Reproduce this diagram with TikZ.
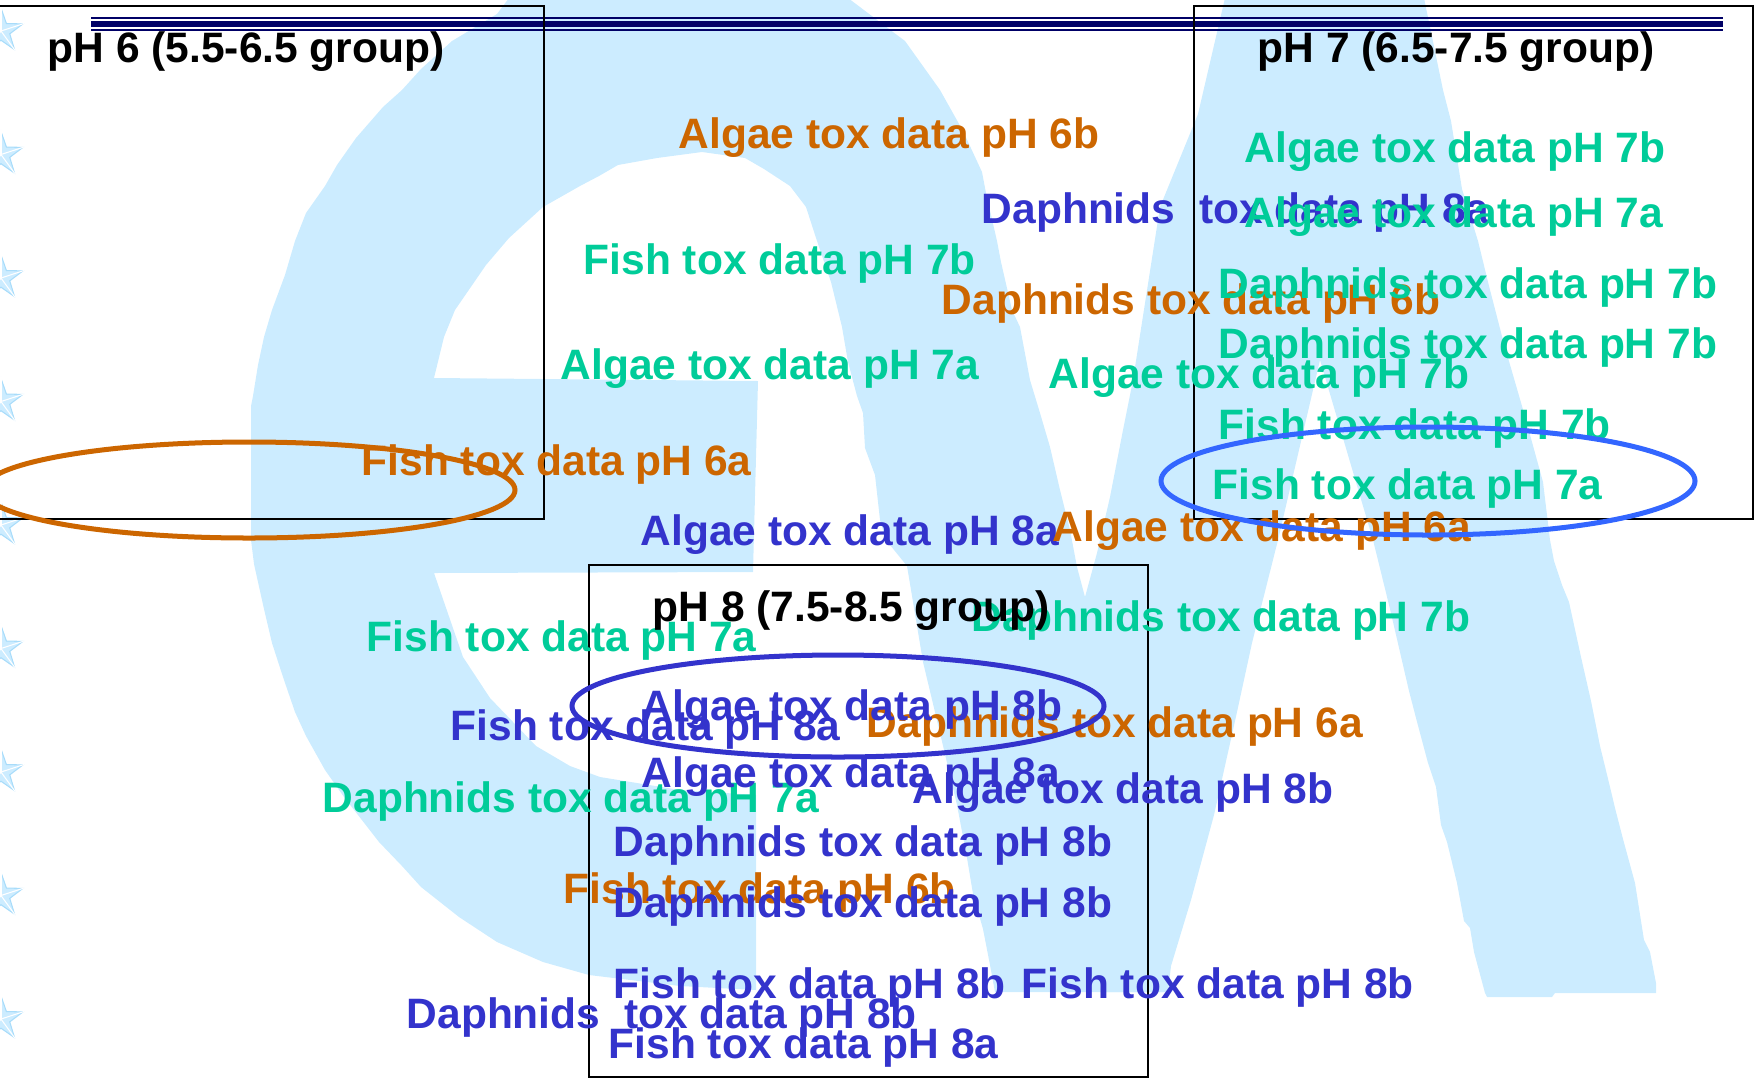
\documentclass[tikz, border = 0pt]{standalone}
\usepackage{fontspec}
\setmainfont{Liberation Sans}
\usetikzlibrary{shapes.geometric}

\definecolor{phsix}{HTML}{CC6600}
\definecolor{phseven}{HTML}{00CC99}
\definecolor{pheight}{HTML}{3333CC}
\definecolor{ringblue}{HTML}{3366FF}
\definecolor{logoblue}{HTML}{CCECFF}
\definecolor{starblue}{HTML}{A8DCFA}
\definecolor{rule}{HTML}{000066}

\newcommand{\toxfont}{\bfseries\fontsize{12.09}{14}\selectfont}

\tikzset{
	tox/.style = {anchor = base west, inner sep = 0, font = \toxfont},
	six/.style = {tox, text = phsix},
	seven/.style = {tox, text = phseven},
	eight/.style = {tox, text = pheight},
	head/.style = {tox, text = black},
	group/.style = {draw = black, line width = 0.017cm},
	ring/.style = {line width = 0.05cm},
	logostar/.style = {star, star points = 5, star point ratio = 2.5, minimum size = 0.46cm, inner sep = 0, fill = logoblue, draw = starblue, line width = 0.3pt}
}

\begin{document}
\begin{tikzpicture}[x = 0.01cm, y = -0.01cm]

\useasboundingbox (0, 0) rectangle (1760, 1078);
\clip (0, 0) rectangle (1760, 1078);

% big pale letters behind everything
\fill [logoblue] (509, -2) -- (497, 14) -- (452, 41) -- (421, 69) -- (402, 90) -- (383, 107) -- (356, 138) -- (337, 165) -- (325, 186) -- (306, 213) -- (295, 241) -- (285, 275) -- (272, 310) -- (264, 337) -- (258, 365) -- (253, 396) -- (251, 406) -- (251, 540) -- (254, 564) -- (264, 609) -- (272, 643) -- (283, 677) -- (295, 712) -- (306, 736) -- (325, 770) -- (344, 797) -- (379, 842) -- (402, 866) -- (421, 887) -- (459, 917) -- (497, 942) -- (543, 962) -- (589, 975) -- (680, 986) -- (756, 990)
	-- (756, 795) -- (680, 790) -- (600, 777) -- (570, 766) -- (536, 746) -- (490, 698) -- (463, 657) -- (444, 602) -- (434, 573) -- (753, 572) -- (758, 381) -- (434, 378)
	-- (444, 337) -- (455, 310) -- (486, 265) -- (509, 238) -- (543, 207) -- (580, 186) -- (599, 176) -- (618, 165) -- (657, 158) -- (702, 152) -- (745, 158) -- (764, 169) -- (790, 186) -- (806, 207) -- (817, 241) -- (831, 282) -- (842, 327) -- (848, 362) -- (857, 396) -- (863, 413) -- (865, 448) -- (875, 475) -- (880, 520) -- (886, 540) -- (907, 566) -- (923, 662) -- (940, 733) -- (957, 805) -- (967, 858) -- (973, 894) -- (983, 929) -- (990, 965) -- (995, 992)
	-- (1168, 992) -- (1085, 597) -- (1077, 567) -- (1070, 530) -- (1060, 490) -- (1050, 447) -- (1040, 413) -- (1030, 380) -- (1020, 327) -- (1012, 310) -- (1001, 262) -- (997, 241) -- (986, 193) -- (982, 172) -- (963, 131) -- (940, 90) -- (905, 41) -- (848, -2) -- cycle;

\fill [logoblue] (1225, -2) -- (1198, 114) -- (1160, 207) -- (1133, 380) -- (1123, 430) -- (1110, 497) -- (1097, 553) -- (1085, 597) -- (1100, 992) -- (1168, 992) -- (1171, 966) -- (1191, 900) -- (1214, 815) -- (1237, 712) -- (1252, 643) -- (1278, 540) -- (1320, 360)
	-- (1373, 540) -- (1390, 609) -- (1409, 691) -- (1416, 718) -- (1428, 763) -- (1436, 787) -- (1441, 825) -- (1447, 842) -- (1457, 883) -- (1464, 921) -- (1470, 928) -- (1474, 952) -- (1485, 993) -- (1487, 997) -- (1552, 997) -- (1555, 993) -- (1656, 993)
	-- (1656, 983) -- (1650, 952) -- (1644, 940) -- (1635, 883) -- (1623, 839) -- (1615, 808) -- (1610, 787) -- (1600, 746) -- (1591, 701) -- (1581, 657) -- (1569, 602) -- (1562, 585) -- (1554, 561) -- (1550, 540) -- (1543, 482) -- (1524, 413) -- (1504, 344) -- (1489, 286) -- (1478, 241) -- (1462, 189) -- (1451, 121) -- (1443, 90) -- (1424, -2) -- cycle;

\foreach \k in {0, ..., 8} {
	\node [logostar] (star\k) at (1, {31 + 123.5*\k}) {};
	\foreach \p in {1, ..., 5}
		\draw [white, line width = 0.3pt] (star\k.center) -- (star\k.outer point \p);
}

\draw [rule, line width = 0.02cm] (91, 17.7) -- (1723, 17.7);
\draw [rule, line width = 0.053cm] (91, 24) -- (1723, 24);
\draw [rule, line width = 0.02cm] (91, 30.3) -- (1723, 30.3);

\draw [group] (-5, 6) rectangle (544, 519);
\draw [group] (1194, 6) rectangle (1753, 519);
\draw [group] (589, 565) rectangle (1148, 1077);

\node [six] (a6b) at (678, 148) {Algae tox data pH 6b};
\node [six] (d6b) at (941, 314) {Daphnids tox data pH 6b};
\node [six] (f6a) at (361, 475) {Fish tox data pH 6a};
\node [six] (d6a) at (866, 737) {Daphnids tox data pH 6a};
\node [six] (f6b) at (563, 903) {Fish tox data pH 6b};

\node [eight] (d8a) at (981, 223) {Daphnids\ \ tox data pH 8a};
\node [eight] (a8a1) at (640, 545) {Algae tox data pH 8a};

\node [seven] (a7b1) at (1244, 162) {Algae tox data pH 7b};
\node [seven] (a7a1) at (1244, 227) {Algae tox data pH 7a};
\node [seven] (f7b1) at (583, 274) {Fish tox data pH 7b};
\node [seven] (d7b1) at (1218, 298) {Daphnids tox data pH 7b};
\node [seven] (d7b2) at (1218, 358) {Daphnids tox data pH 7b};
\node [seven] (a7a2) at (560, 379) {Algae tox data pH 7a};
\node [seven] (a7b2) at (1048, 388) {Algae tox data pH 7b};
\node [seven] (f7b2) at (1218, 439) {Fish tox data pH 7b};
\node [seven] (f7a1) at (1212, 499) {Fish tox data pH 7a};
\node [seven] (d7b3) at (971, 631) {Daphnids tox data pH 7b};
\node [seven] (f7a2) at (366, 651) {Fish tox data pH 7a};
\node [seven] (d7a) at (322, 812) {Daphnids tox data pH 7a};

\node [six] (a6a) at (1052, 541) {Algae tox data pH 6a};

\node [eight] (a8b1) at (641, 720) {Algae tox data pH 8b};
\node [eight] (f8a1) at (450, 740) {Fish tox data pH 8a};
\node [eight] (a8a2) at (641, 787) {Algae tox data pH 8a};
\node [eight] (a8b2) at (912, 803) {Algae tox data pH 8b};
\node [eight] (d8b1) at (613, 856) {Daphnids tox data pH 8b};
\node [eight] (d8b2) at (613, 917) {Daphnids tox data pH 8b};
\node [eight] (f8b1) at (613, 998) {Fish tox data pH 8b};
\node [eight] (f8b2) at (1021, 998) {Fish tox data pH 8b};
\node [eight] (d8b3) at (406, 1028) {Daphnids\ \ tox data pH 8b};
\node [eight] (f8a2) at (608, 1058) {Fish tox data pH 8a};

\node [head] (grp6) at (47, 62) {pH 6 (5.5-6.5 group)};
\node [head] (grp7) at (1257, 62) {pH 7 (6.5-7.5 group)};
\node [head] (grp8) at (652, 621) {pH 8 (7.5-8.5 group)};

\draw [ring, phsix] (249, 490) ellipse [x radius = 266, y radius = 48];
\draw [ring, ringblue] (1428, 481) ellipse [x radius = 267, y radius = 54];
\draw [ring, pheight] (838, 706) ellipse [x radius = 266, y radius = 51];

\end{tikzpicture}
\end{document}
